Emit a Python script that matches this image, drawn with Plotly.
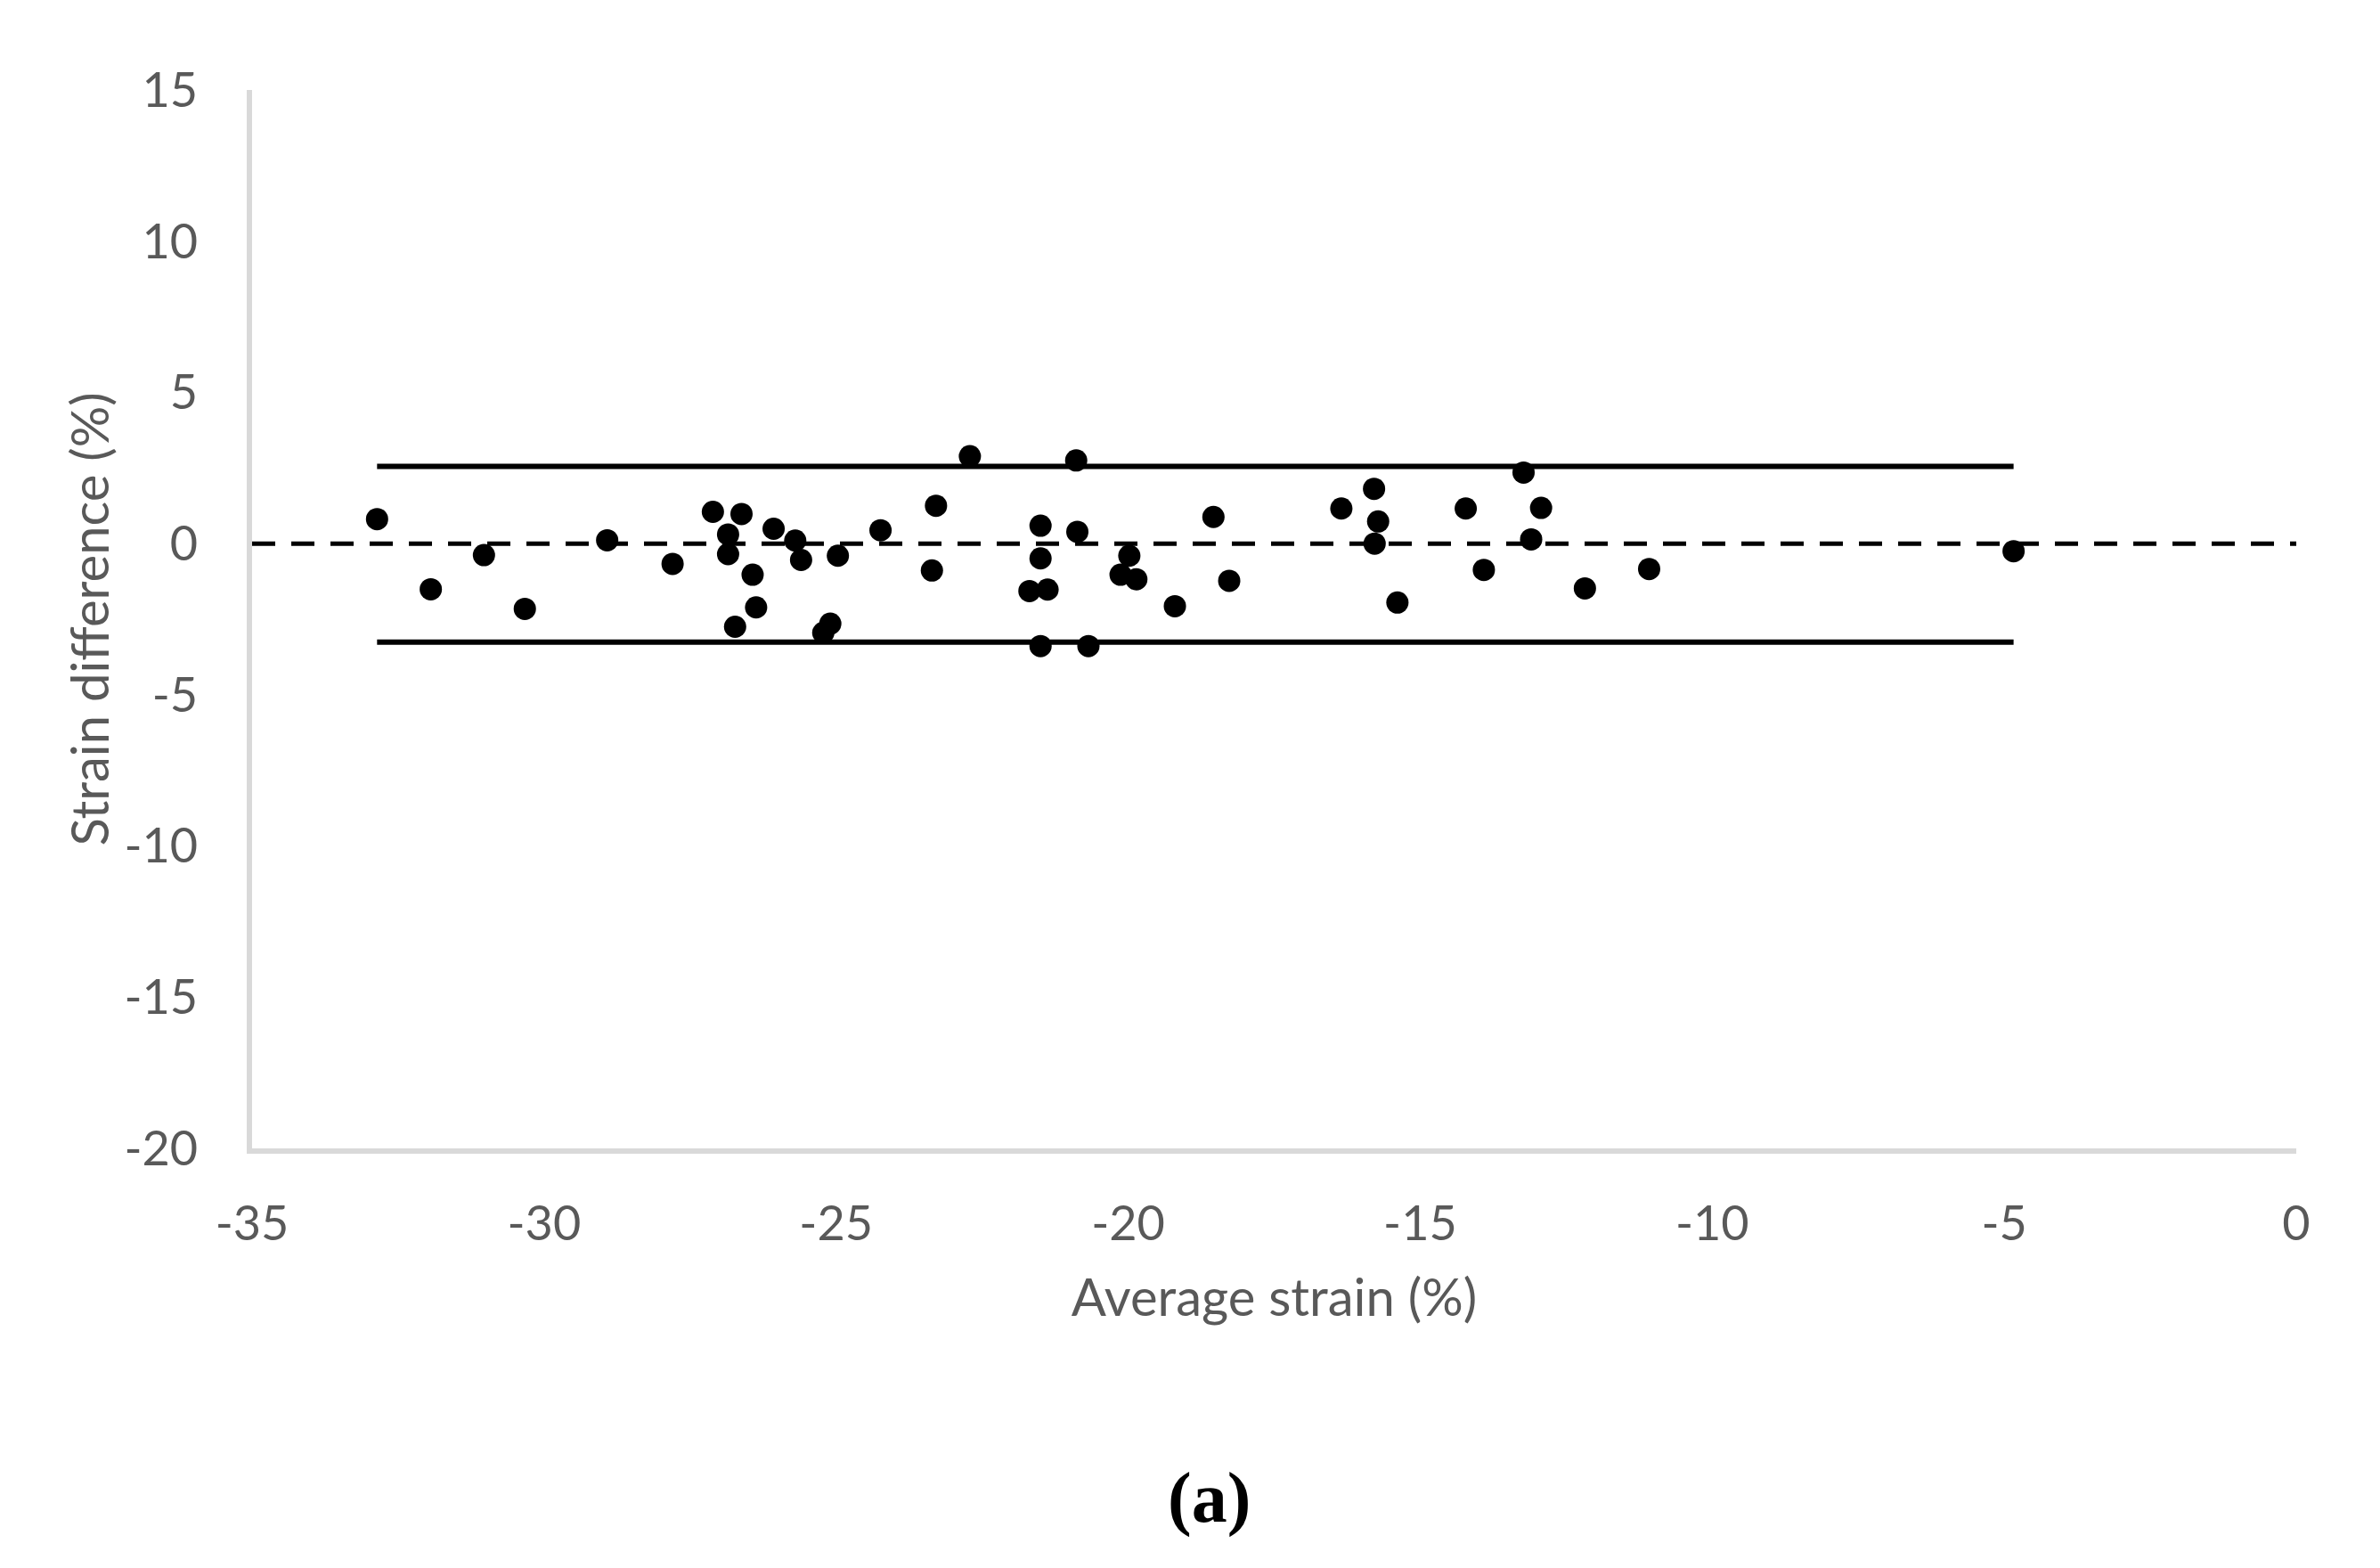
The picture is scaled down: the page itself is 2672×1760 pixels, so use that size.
import plotly.graph_objects as go

# ---- data (Bland-Altman plot) ----
average_strain = [
    -32.86, -31.94, -31.03, -30.33, -28.92, -27.80, -27.11, -26.62, -26.85, -26.85,
    -26.43, -26.37, -26.73, -26.07, -25.70, -25.60, -24.97, -25.10, -25.22, -24.24,
    -23.29, -23.36, -22.71, -20.89, -21.50, -21.50, -21.69, -21.38, -21.50, -20.87,
    -20.68, -19.98, -20.13, -19.86, -19.20, -18.54, -18.27, -16.35, -15.79, -15.72,
    -15.78, -15.39, -14.22, -13.91, -13.23, -12.93, -13.10, -12.18, -11.08, -4.84,
]
strain_difference = [
    0.81, -1.51, -0.38, -2.16, 0.11, -0.67, 1.05, 0.98, 0.30, -0.35,
    -1.03, -2.11, -2.75, 0.49, 0.10, -0.54, -0.40, -2.65, -2.95, 0.44,
    1.25, -0.89, 2.89, 2.75, 0.59, -0.49, -1.57, -1.52, -3.39, 0.39,
    -3.39, -0.40, -1.03, -1.18, -2.07, 0.88, -1.23, 1.16, 1.81, 0.73,
    0.00, -1.95, 1.16, -0.87, 2.35, 1.18, 0.14, -1.48, -0.84, -0.25,
]
upper_limit = 2.55
lower_limit = -3.26
zero_line = 0.0

x_range = [-35, 0]
y_range = [-20, 15]
x_tickvals = [-35, -30, -25, -20, -15, -10, -5, 0]
x_ticktext = ["-35", "-30", "-25", "-20", "-15", "-10", "-5", "0"]
y_tickvals = [15, 10, 5, 0, -5, -10, -15, -20]
y_ticktext = ["15", "10", "5", "0", "-5", "-10", "-15", "-20"]

x_title = "Average strain (%)"
y_title = "Strain difference (%)"
caption = "(a)"

# ---- figure ----
fig = go.Figure()

x_lo, x_hi = min(average_strain), max(average_strain)

fig.add_trace(go.Scatter(
    x=x_range, y=[zero_line, zero_line], mode="lines",
    line=dict(color="black", width=5, dash="26px,18px"),
    hoverinfo="skip", showlegend=False,
))
fig.add_trace(go.Scatter(
    x=[x_lo, x_hi], y=[upper_limit, upper_limit], mode="lines",
    line=dict(color="black", width=6), showlegend=False,
))
fig.add_trace(go.Scatter(
    x=[x_lo, x_hi], y=[lower_limit, lower_limit], mode="lines",
    line=dict(color="black", width=6), showlegend=False,
))
fig.add_trace(go.Scatter(
    x=average_strain, y=strain_difference, mode="markers",
    marker=dict(color="black", size=25, line=dict(width=0)),
    showlegend=False,
))

FONT = "Lato, Carlito, Calibri, sans-serif"
tick_font = dict(family=FONT, size=54, color="#595959")
title_font = dict(family=FONT, size=58, color="#595959")

# page body has an 8px default margin; size the figure to fit inside it
W, H = 2656, 1744
ML, MT, MR, MB = 275, 93, 86, 463

fig.update_layout(
    width=W, height=H,
    margin=dict(l=ML, r=MR, t=MT, b=MB),
    paper_bgcolor="white", plot_bgcolor="white",
    xaxis=dict(
        range=x_range, tickvals=x_tickvals, ticktext=x_ticktext,
        showgrid=False, zeroline=False,
        showline=True, linecolor="#d9d9d9", linewidth=6,
        ticks="", ticklabelstandoff=32,
        tickfont=tick_font,
        title=dict(text=x_title, font=title_font, standoff=36),
        automargin=False,
    ),
    yaxis=dict(
        range=y_range, tickvals=y_tickvals, ticktext=y_ticktext,
        showgrid=False, zeroline=False,
        showline=True, linecolor="#d9d9d9", linewidth=6,
        ticks="", ticklabelstandoff=44,
        tickfont=tick_font,
        title=dict(text=y_title, font=title_font, standoff=0),
        automargin=False,
    ),
)

plot_w = W - ML - MR
plot_h = H - MT - MB
fig.add_annotation(
    text="<b>" + caption + "</b>",
    x=(1357 - 8 - ML) / plot_w, y=(1281 - 1673) / plot_h,
    xref="paper", yref="paper", xanchor="center", yanchor="middle",
    showarrow=False,
    font=dict(family="Liberation Serif, Times New Roman, serif", size=80, color="black"),
)

fig.write_html("out.html")
